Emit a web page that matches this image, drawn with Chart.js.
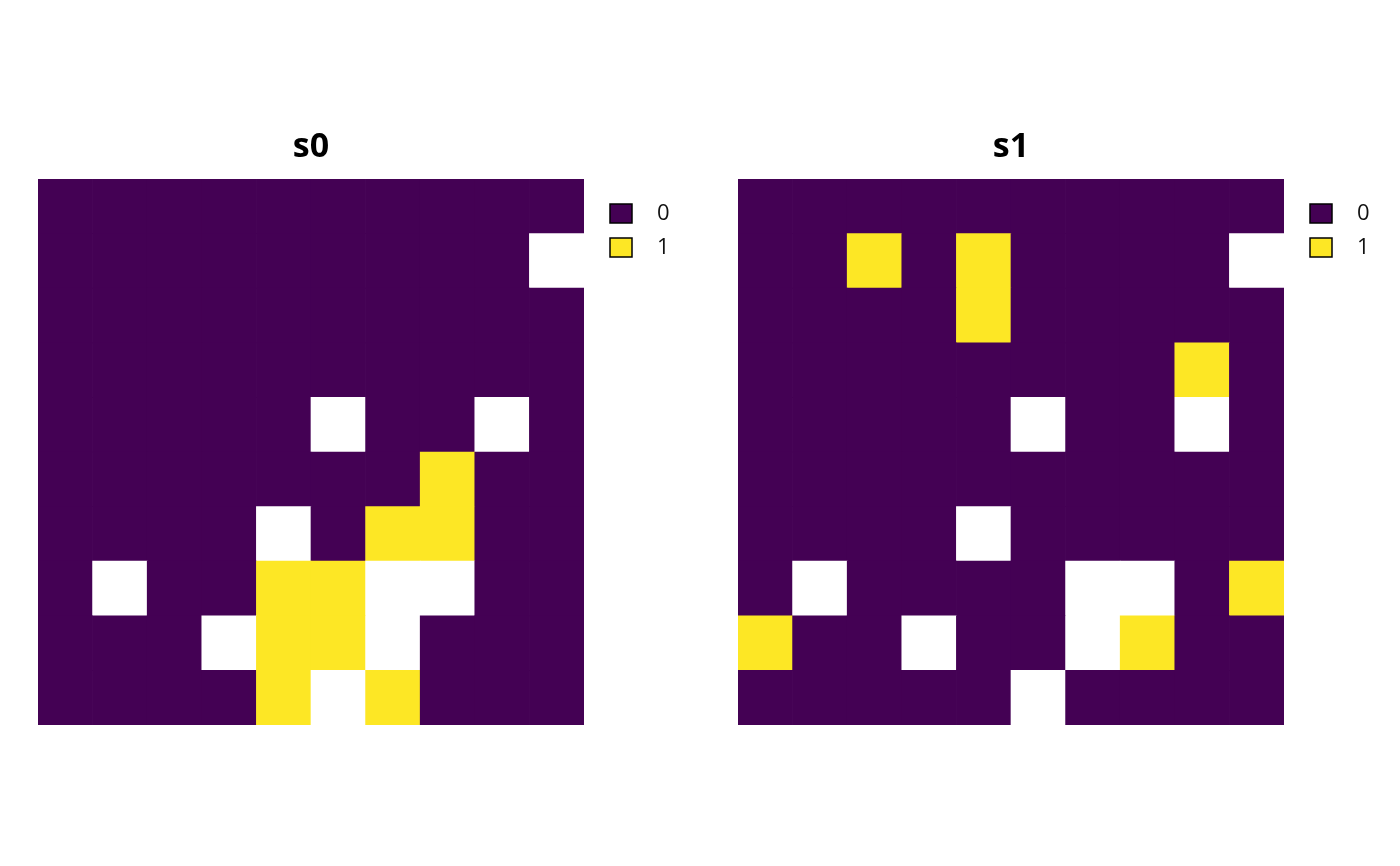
<!DOCTYPE html>
<html>
<head>
<meta charset="utf-8">
<script src="https://cdn.jsdelivr.net/npm/chart.js@4.4.1/dist/chart.umd.min.js"></script>
<style>
  html, body { margin: 0; padding: 0; background: #fff; }
  .wrap { display: flex; width: 1400px; height: 866px; }
  .panel { position: relative; width: 700px; height: 866px; }
</style>
</head>
<body>
<div class="wrap">
  <div class="panel"><canvas id="s0"></canvas></div>
  <div class="panel"><canvas id="s1"></canvas></div>
</div>
<script>
// grid values, rows listed top to bottom; null = missing cell (white)
const columns = ['1', '2', '3', '4', '5', '6', '7', '8', '9', '10'];
const legendLabels = ['0', '1'];
const palette = ['#440154', '#FDE725'];

const s0 = [
  [0, 0, 0, 0, 0, 0, 0, 0, 0, 0],
  [0, 0, 0, 0, 0, 0, 0, 0, 0, null],
  [0, 0, 0, 0, 0, 0, 0, 0, 0, 0],
  [0, 0, 0, 0, 0, 0, 0, 0, 0, 0],
  [0, 0, 0, 0, 0, null, 0, 0, null, 0],
  [0, 0, 0, 0, 0, 0, 0, 1, 0, 0],
  [0, 0, 0, 0, null, 0, 1, 1, 0, 0],
  [0, null, 0, 0, 1, 1, null, null, 0, 0],
  [0, 0, 0, null, 1, 1, null, 0, 0, 0],
  [0, 0, 0, 0, 1, null, 1, 0, 0, 0]
];

const s1 = [
  [0, 0, 0, 0, 0, 0, 0, 0, 0, 0],
  [0, 0, 1, 0, 1, 0, 0, 0, 0, null],
  [0, 0, 0, 0, 1, 0, 0, 0, 0, 0],
  [0, 0, 0, 0, 0, 0, 0, 0, 1, 0],
  [0, 0, 0, 0, 0, null, 0, 0, null, 0],
  [0, 0, 0, 0, 0, 0, 0, 0, 0, 0],
  [0, 0, 0, 0, null, 0, 0, 0, 0, 0],
  [0, null, 0, 0, 0, 0, null, null, 0, 1],
  [1, 0, 0, null, 0, 0, null, 1, 0, 0],
  [0, 0, 0, 0, 0, null, 0, 0, 0, 0]
];

const FONT = '"Open Sans", "Noto Sans", sans-serif';

function cellColor(v) {
  return v === null ? '#ffffff' : palette[v];
}

// small legend drawn beside the grid
const sideLegend = {
  id: 'sideLegend',
  afterDraw(chart) {
    const { ctx, chartArea } = chart;
    const x = chartArea.right + 26;
    let y = chartArea.top + 25;
    ctx.save();
    ctx.font = '22px ' + FONT;
    ctx.textBaseline = 'middle';
    legendLabels.forEach((lab, i) => {
      ctx.fillStyle = palette[i];
      ctx.fillRect(x, y, 22, 19);
      ctx.lineWidth = 1.5;
      ctx.strokeStyle = '#000';
      ctx.strokeRect(x, y, 22, 19);
      ctx.fillStyle = '#111';
      ctx.fillText(lab, x + 47, y + 10);
      y += 34;
    });
    ctx.restore();
  }
};

function makeGrid(id, title, grid) {
  // stacked bars: dataset 0 is the bottom row
  const datasets = grid.slice().reverse().map((row, r) => ({
    label: 'row' + r,
    data: row.map(() => 1),
    backgroundColor: row.map(cellColor),
    borderWidth: 0,
    barPercentage: 1,
    categoryPercentage: 1
  }));

  new Chart(document.getElementById(id), {
    type: 'bar',
    data: { labels: columns, datasets },
    options: {
      responsive: true,
      maintainAspectRatio: false,
      animation: false,
      layout: { padding: { left: 38, right: 116, top: 127, bottom: 141 } },
      plugins: {
        legend: { display: false },
        tooltip: { enabled: false },
        title: {
          display: true,
          text: title,
          fullSize: false,
          color: '#000',
          font: { family: FONT, size: 34, weight: 'bold', lineHeight: 1.2 },
          padding: { top: 0, bottom: 11.2 }
        }
      },
      scales: {
        x: { stacked: true, display: false },
        y: { stacked: true, display: false, min: 0, max: 10 }
      }
    },
    plugins: [sideLegend]
  });
}

makeGrid('s0', 's0', s0);
makeGrid('s1', 's1', s1);
</script>
</body>
</html>
